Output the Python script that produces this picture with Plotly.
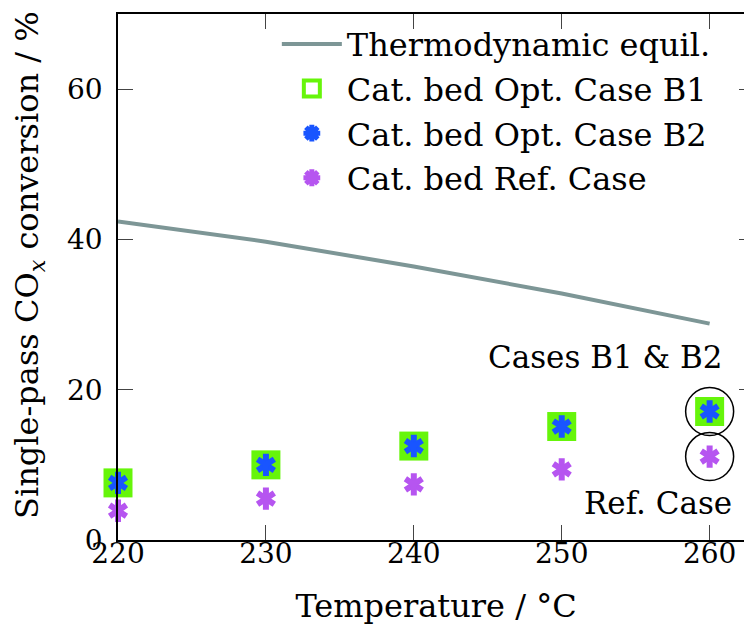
import plotly.graph_objects as go

# data
temps = [220, 230, 240, 250, 260]
equil = [42.4, 39.7, 36.4, 32.8, 28.8]
b1 = [7.6, 10.0, 12.5, 15.1, 17.1]
b2 = [7.6, 10.0, 12.5, 15.1, 17.1]
ref = [3.9, 5.5, 7.4, 9.4, 11.1]

FONT = "DejaVu Serif"
GREEN = "rgb(102,245,10)"
BLUE = "rgb(25,85,255)"
PURPLE = "rgb(182,85,240)"
GREY = "rgb(125,150,150)"

fig = go.Figure()

fig.add_trace(go.Scatter(
    x=temps, y=equil, mode="lines",
    line=dict(color=GREY, width=4),
    name="Thermodynamic equil."
))

# filled square in the plot, open square in the legend
fig.add_trace(go.Scatter(
    x=temps, y=b1, mode="markers", cliponaxis=False,
    marker=dict(symbol="square", size=29, color=GREEN),
    showlegend=False
))
fig.add_trace(go.Scatter(
    x=[None], y=[None], mode="markers",
    marker=dict(symbol="square", size=16, color="white",
                line=dict(color=GREEN, width=4)),
    name="Cat. bed Opt. Case B1"
))


def add_asterisk(y, color, name):
    # 6-armed asterisk = y-up on top of y-down
    for sym in ("y-up", "y-down"):
        fig.add_trace(go.Scatter(
            x=temps, y=y, mode="markers", cliponaxis=False,
            marker=dict(symbol=sym, size=14, color=color,
                        line=dict(color=color, width=6)),
            showlegend=False
        ))
    fig.add_trace(go.Scatter(
        x=[None], y=[None], mode="markers",
        marker=dict(symbol="asterisk", size=14, color=color,
                    line=dict(color=color, width=5)),
        name=name
    ))


add_asterisk(b2, BLUE, "Cat. bed Opt. Case B2")
add_asterisk(ref, PURPLE, "Cat. bed Ref. Case")

# circles round the 260 degC points
for yv in (b2[-1], ref[-1]):
    fig.add_shape(
        type="circle", xref="x", yref="y",
        xsizemode="pixel", ysizemode="pixel",
        xanchor=temps[-1], yanchor=yv,
        x0=-24, x1=24, y0=-24, y1=24,
        line=dict(color="black", width=1.5)
    )

fig.add_annotation(x=temps[-1], y=b2[-1], text="Cases B1 & B2",
                   showarrow=False, xanchor="right", yanchor="middle",
                   xshift=15, yshift=55, font=dict(family=FONT, size=31))
fig.add_annotation(x=temps[-1], y=ref[-1], text="Ref. Case",
                   showarrow=False, xanchor="right", yanchor="middle",
                   xshift=24, yshift=-46, font=dict(family=FONT, size=31))

# y axis title as a rotated annotation so it can sit closer to the edge
fig.add_annotation(xref="paper", yref="paper", x=0, y=0.523,
                   xanchor="center", yanchor="middle", xshift=-89,
                   textangle=-90, showarrow=False,
                   text="Single-pass CO<sub><i>x</i></sub> conversion / %",
                   font=dict(family=FONT, size=32))

axis = dict(
    showline=True, linecolor="black", linewidth=1.5, mirror="ticks",
    ticks="inside", ticklen=15, tickwidth=1, tickcolor="#444",
    showgrid=False, zeroline=False,
    tickfont=dict(family=FONT, size=28)
)

fig.update_xaxes(axis, range=[220, 263], tickvals=[220, 230, 240, 250, 260],
                 ticklabelstandoff=-12,
                 title=dict(text="Temperature / °C",
                            font=dict(family=FONT, size=32), standoff=25))
fig.update_yaxes(axis, range=[0, 70], tickvals=[0, 20, 40, 60],
                 ticklabelstandoff=8)

fig.update_layout(
    width=752, height=637,
    margin=dict(l=110, r=4, t=4, b=105),
    paper_bgcolor="white", plot_bgcolor="white",
    font=dict(family=FONT, color="black", size=30),
    legend=dict(x=0.94, xanchor="right", y=0.995, yanchor="top",
                bgcolor="rgba(0,0,0,0)", font=dict(family=FONT, size=32),
                itemwidth=60, tracegroupgap=0)
)

fig.write_html("out.html")
